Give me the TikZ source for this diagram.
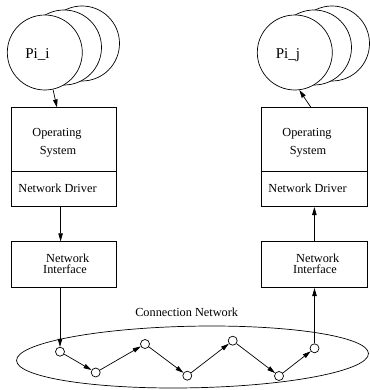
\documentclass[tikz,border=0pt]{standalone}
\usepackage{fontspec}
\setmainfont{Liberation Serif}
\usetikzlibrary{arrows.meta,calc}
\begin{document}
\begin{tikzpicture}[x=1pt,y=-1pt,
  line width=0.7pt,
  proc/.style={draw,circle,minimum size=75pt,inner sep=0pt,fill=white},
  lbl/.style={anchor=base,inner sep=0pt,font=\fontsize{12.3}{14}\selectfont},
  plbl/.style={anchor=base west,inner sep=0pt,font=\fontsize{15}{17}\selectfont},
  box/.style={draw,line width=0.8pt},
  hop/.style={draw,circle,minimum size=9pt,inner sep=0pt,fill=white,line width=0.7pt},
  arr/.style={-{Triangle[length=8pt,width=4.5pt]}},
]
\useasboundingbox (0,0) rectangle (369,390);

% ---- left host ----
\node[proc] (li3) at (82,43.5) {};
\node[proc] (li2) at (64,47.5) {};
\node[proc] (li1) at (44.8,52.5) {};
\node[plbl] (lpi) at (25,58.3) {Pi\_i};

\node[box,minimum width=105pt,minimum height=99.2pt,inner sep=0pt] (los) at (64.2,157.1) {};
\draw[line width=0.8pt] (11.7,171) coordinate (ldivl) -- (116.7,171) coordinate (ldivr);
\node[lbl] (lop) at (57,136) {Operating};
\node[lbl] (lsy) at (58,154) {System};
\node[lbl] (lnd) at (57.5,192.7) {Network Driver};

\node[box,minimum width=105pt,minimum height=46pt,inner sep=0pt] (lni) at (64.2,264.7) {};
\node[lbl] (lnw) at (67.7,262.7) {Network};
\node[lbl] (lif) at (65,273.7) {Interface};

% ---- right host ----
\node[proc] (ri3) at (332,43.5) {};
\node[proc] (ri2) at (314,47.5) {};
\node[proc] (ri1) at (294.8,52.5) {};
\node[plbl] (rpi) at (275.5,58.3) {Pi\_j};

\node[box,minimum width=106pt,minimum height=99.2pt,inner sep=0pt] (ros) at (314.7,157.1) {};
\draw[line width=0.8pt] (261.7,171) coordinate (rdivl) -- (367.7,171) coordinate (rdivr);
\node[lbl] (rop) at (307,136) {Operating};
\node[lbl] (rsy) at (308,154) {System};
\node[lbl] (rnd) at (307.5,192.7) {Network Driver};

\node[box,minimum width=106pt,minimum height=46pt,inner sep=0pt] (rni) at (314.7,264.7) {};
\node[lbl] (rnw) at (317.7,262.7) {Network};
\node[lbl] (rif) at (315,273.7) {Interface};

% ---- connection network ----
\node[lbl] (cn) at (186.7,316) {Connection Network};
\draw[rotate around={1.14:(192.5,357)}] (192.5,357) ellipse (176 and 30.8);

\node[hop] (n1) at (60,351.7) {};
\node[hop] (n2) at (95.7,372.5) {};
\node[hop] (n3) at (145,344) {};
\node[hop] (n4) at (187.3,375.7) {};
\node[hop] (n5) at (232.7,340.7) {};
\node[hop] (n6) at (279,376) {};
\node[hop] (n7) at (314.5,348.3) {};

\draw[arr] (n1) -- (n2);
\draw[arr] (n2) -- (n3);
\draw[arr] (n3) -- (n4);
\draw[arr] (n4) -- (n5);
\draw[arr] (n5) -- (n6);
\draw[arr] (n6) -- (n7);

% ---- vertical connectors ----
\coordinate (ltop) at (57,107.5);
\draw[arr] (li1) -- (ltop);
\coordinate (rtop) at (311,107.5);
\coordinate (rcir) at (299.3,90);
\draw[arr] (rtop) -- (rcir);

\draw[arr] ($(los.south west)!0.466!(los.south east)$) coordinate (a1) -- (a1 |- lni.north);
\draw[arr] ($(rni.north west)!0.497!(rni.north east)$) coordinate (a2) -- (a2 |- ros.south);
\draw[arr] (n1 |- lni.south) -- (n1);
\draw[arr] (n7) -- (n7 |- rni.south);
\end{tikzpicture}
\end{document}
